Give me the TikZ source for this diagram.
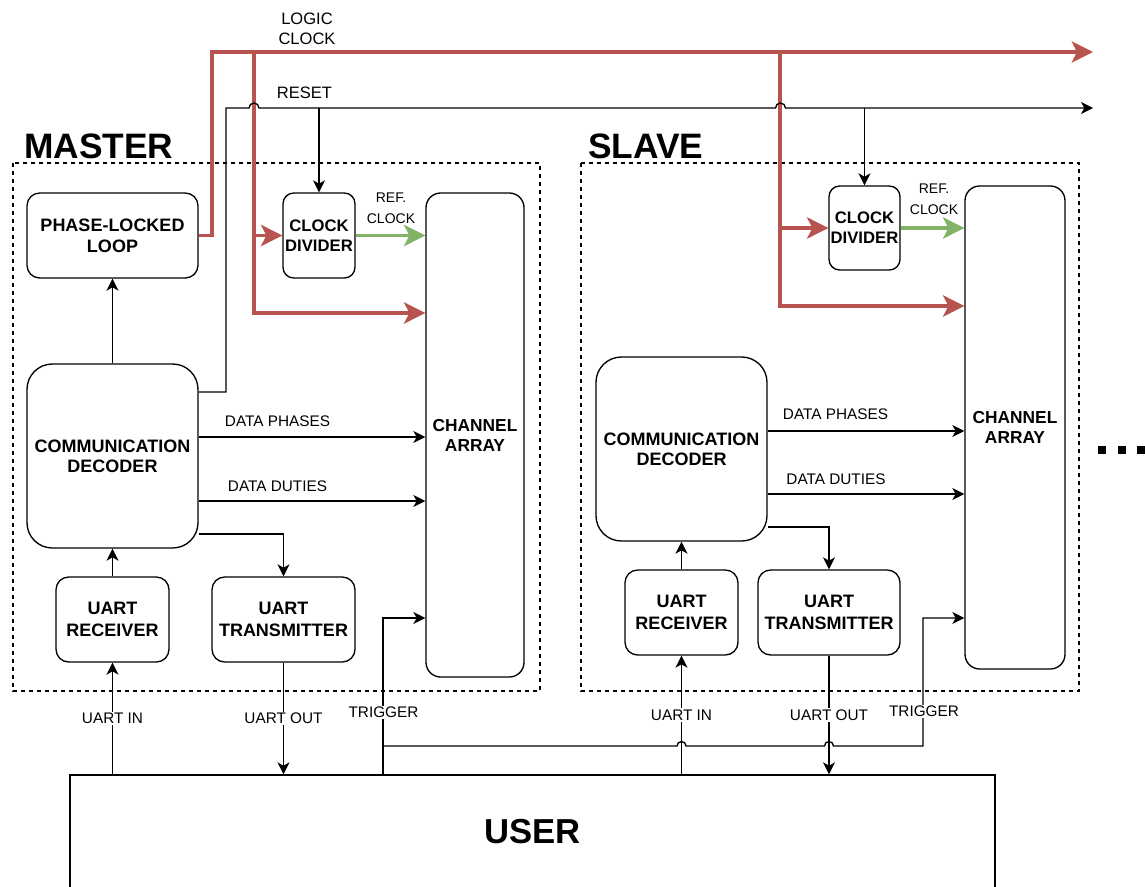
\documentclass[tikz,border=0pt]{standalone}
\usepackage{fontspec}
\setmainfont{Liberation Sans}
\usetikzlibrary{arrows.meta}
\definecolor{clkred}{HTML}{B85450}
\definecolor{refgreen}{HTML}{82B366}
\tikzset{
  blk/.style={draw, line width=1pt, align=center, inner sep=0pt,
    font=\bfseries\fontsize{13.5}{16}\selectfont},
  grp/.style={draw, line width=1pt, dash pattern=on 3pt off 3pt},
  sig/.style={draw, line width=1pt, -{Stealth[length=9pt,width=9pt,inset=2.5pt]}},
  clkarrow/.style={draw=clkred, line width=2.3pt, -{Stealth[length=16pt,width=16pt,inset=4pt]}},
  refarrow/.style={draw=refgreen, line width=2.3pt, -{Stealth[length=16pt,width=16pt,inset=4pt]}},
  lbl/.style={font=\fontsize{11.5}{14}\selectfont, inner sep=1pt},
  lblw/.style={lbl, fill=white},
  bus/.style={font=\fontsize{12.4}{15}\selectfont, align=center, inner sep=0pt},
  reflbl/.style={font=\fontsize{10.5}{15.75}\selectfont, align=center, inner sep=0pt},
  title/.style={font=\bfseries\fontsize{26.5}{30}\selectfont, inner sep=0pt},
}
% block: options, name, x1, y1, x2, y2, corner radius, text
\newcommand\mkblock[8]{%
  \node[blk, rounded corners=#7, minimum width={(#5-#3)*0.75pt},
        minimum height={(#6-#4)*0.75pt}, #1] (#2) at ({(#3+#5)/2},{(#4+#6)/2}) {#8};}

\begin{document}
\begin{tikzpicture}[x=0.75pt, y=-0.75pt]
\useasboundingbox (0,0) rectangle (1145,886);

% group frames and titles
\draw[grp] (13,163) rectangle (540,691);
\draw[grp] (581,163) rectangle (1079,691);
\node[title, anchor=west] (mtitle) at (24,146.5) {MASTER};
\node[title, anchor=west] (stitle) at (588,146) {SLAVE};

% master blocks
\mkblock{}{pll}{27}{193}{198}{278}{9.5pt}{PHASE-LOCKED\\LOOP}
\mkblock{font=\bfseries\fontsize{12.5}{15}\selectfont}{mdiv}{283}{193}{355}{278}{8pt}{CLOCK\\DIVIDER}
\mkblock{font=\bfseries\fontsize{13}{15}\selectfont}{march}{426}{193}{524}{677}{11pt}{CHANNEL\\ARRAY}
\mkblock{font=\bfseries\fontsize{13.5}{15}\selectfont}{mdec}{27}{364}{198}{548}{19pt}{COMMUNICATION\\DECODER}
\mkblock{}{mrx}{56}{577}{169}{662}{9.5pt}{UART\\RECEIVER}
\mkblock{}{mtx}{212}{577}{355}{662}{9.5pt}{UART\\TRANSMITTER}

% slave blocks
\mkblock{font=\bfseries\fontsize{12.5}{15}\selectfont}{sdiv}{829}{186}{900}{270}{8pt}{CLOCK\\DIVIDER}
\mkblock{font=\bfseries\fontsize{13}{15}\selectfont}{sarr}{965}{186}{1065}{669}{11pt}{CHANNEL\\ARRAY}
\mkblock{font=\bfseries\fontsize{13.5}{15}\selectfont}{sdec}{596}{357}{767}{541}{19pt}{COMMUNICATION\\DECODER}
\mkblock{}{srx}{625}{570}{738}{655}{9.5pt}{UART\\RECEIVER}
\mkblock{}{stx}{758}{570}{900}{655}{9.5pt}{UART\\TRANSMITTER}

% user
\node[draw, line width=1pt, minimum width={925*0.75pt}, minimum height={114*0.75pt},
      inner sep=0pt, font=\bfseries\fontsize{26}{30}\selectfont] (user) at (532.5,832) {USER};

% free ends of the global buses
\coordinate (clkout) at (1093,52);
\coordinate (rstout) at (1093,108);

% logic clock
\draw[clkarrow] (pll.east) -- (212,235.5) -- (212,52) -- (clkout);
\draw[clkarrow] (254,52) -- (254,313) -- (march.west |- 0,313);
\draw[clkarrow] (254,235.5) -- (mdiv.west);
\draw[clkarrow] (780,52) -- (780,306) -- (sarr.west |- 0,306);
\draw[clkarrow] (780,228) -- (sdiv.west);
\node[bus] (lclk) at (307,29) {LOGIC\\CLOCK};

% reference clock
\draw[refarrow] (mdiv.east) -- (march.west |- mdiv.east);
\draw[refarrow] (sdiv.east) -- (sarr.west |- sdiv.east);
\node[reflbl] (mref) at (391,208.5) {REF.\\CLOCK};
\node[reflbl] (sref) at (934,199) {REF.\\CLOCK};

% reset
\draw[sig] (mdec.east |- 0,392) -- (226,392) -- (226,108) -- (249,108)
  arc[start angle=180, end angle=360, radius=5] -- (775.5,108)
  arc[start angle=180, end angle=360, radius=5] -- (rstout);
\draw[sig] (mdiv.north |- 0,108) -- (mdiv.north);
\draw[sig] (sdiv.north |- 0,108) -- (sdiv.north);
\node[bus] (rst) at (304.5,92.7) {RESET};

% master internal signals
\draw[sig] (mdec.north) -- (pll.south);
\draw[sig] (mdec.east |- 0,437) -- (march.west |- 0,437);
\draw[sig] (mdec.east |- 0,501) -- (march.west |- 0,501);
\node[lbl] (mph) at (277.5,421.5) {DATA PHASES};
\node[lbl] (mdu) at (277.5,486) {DATA DUTIES};
\draw[sig] (mdec.east |- 0,534) -| (mtx.north);
\draw[sig] (mrx.north) -- (mdec.south);

% slave internal signals
\draw[sig] (sdec.east |- 0,431) -- (sarr.west |- 0,431);
\draw[sig] (sdec.east |- 0,494) -- (sarr.west |- 0,494);
\node[lbl] (sph) at (835.5,414) {DATA PHASES};
\node[lbl] (sdu) at (836,479) {DATA DUTIES};
\draw[sig] (sdec.east |- 0,527) -| (stx.north);
\draw[sig] (srx.north) -- (sdec.south);

% UART links to the user
\draw[sig] (mrx.south |- user.north) -- node[lblw] {UART IN} (mrx.south);
\draw[sig] (mtx.south) -- node[lblw] {UART OUT} (mtx.south |- user.north);
\draw[sig] (srx.south |- user.north) -- node[lblw] {UART IN} (srx.south);
\draw[sig] (stx.south) -- node[lblw] {UART OUT} (stx.south |- user.north);

% trigger
\draw[sig] (user.north -| 383,0) -- (383,618) -- (march.west |- 0,618);
\draw[sig] (383,746) -- (677,746)
  arc[start angle=180, end angle=360, radius=4.5] -- (824.5,746)
  arc[start angle=180, end angle=360, radius=4.5] -- (923,746) -- (923,618)
  -- (sarr.west |- 0,618);
\node[lblw] (mtrig) at (383.5,712.5) {TRIGGER};
\node[lblw] (strig) at (924,711.5) {TRIGGER};

% continuation marks
\fill (1098,446) rectangle ++(7.5,7.5);
\fill (1118,446) rectangle ++(7.5,7.5);
\fill (1137,446) rectangle ++(7.5,7.5);
\end{tikzpicture}
\end{document}
